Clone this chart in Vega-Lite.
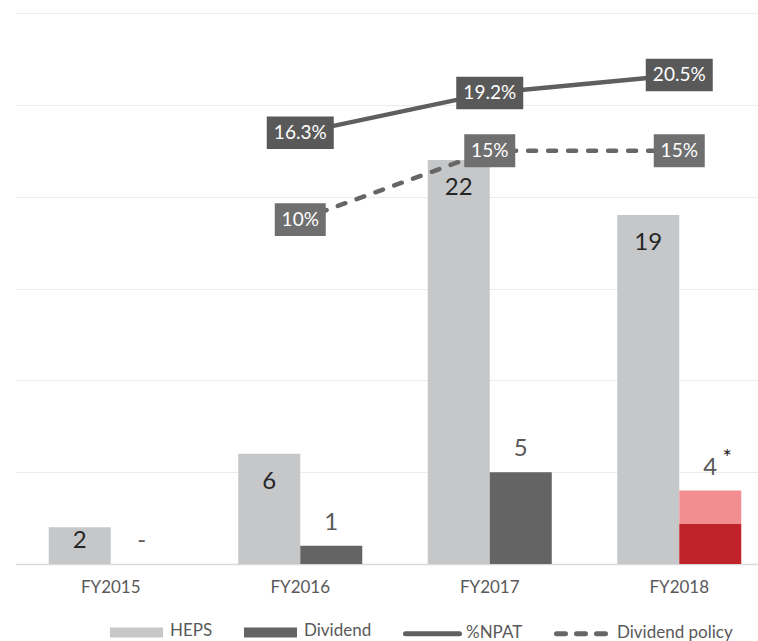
{
  "$schema": "https://vega.github.io/schema/vega-lite/v6.json",
  "width": 742,
  "height": 551,
  "autosize": {"type": "none"},
  "padding": {"left": 16, "top": 13, "right": 0, "bottom": 77},
  "background": "white",
  "config": {"view": {"stroke": null}, "font": "Lato"},
  "datasets": {
    "bars": [
      {"year": "FY2015", "series": "HEPS", "part": "HEPS", "value": 2},
      {"year": "FY2015", "series": "Dividend", "part": "Dividend", "value": 0},
      {"year": "FY2016", "series": "HEPS", "part": "HEPS", "value": 6},
      {"year": "FY2016", "series": "Dividend", "part": "Dividend", "value": 1},
      {"year": "FY2017", "series": "HEPS", "part": "HEPS", "value": 22},
      {"year": "FY2017", "series": "Dividend", "part": "Dividend", "value": 5},
      {"year": "FY2018", "series": "HEPS", "part": "HEPS", "value": 19},
      {"year": "FY2018", "series": "Dividend", "part": "Dividend (interim)", "value": 2.2},
      {"year": "FY2018", "series": "Dividend", "part": "Dividend (final)", "value": 1.8}
    ],
    "barLabels": [
      {"year": "FY2015", "series": "HEPS", "total": 2, "label": "2", "note": ""},
      {"year": "FY2015", "series": "Dividend", "total": 0, "label": "-", "note": ""},
      {"year": "FY2016", "series": "HEPS", "total": 6, "label": "6", "note": ""},
      {"year": "FY2016", "series": "Dividend", "total": 1, "label": "1", "note": ""},
      {"year": "FY2017", "series": "HEPS", "total": 22, "label": "22", "note": ""},
      {"year": "FY2017", "series": "Dividend", "total": 5, "label": "5", "note": ""},
      {"year": "FY2018", "series": "HEPS", "total": 19, "label": "19", "note": ""},
      {"year": "FY2018", "series": "Dividend", "total": 4, "label": "4", "note": "*"}
    ],
    "lines": [
      {"year": "FY2016", "series": "%NPAT", "pct": 16.3, "label": "16.3%"},
      {"year": "FY2017", "series": "%NPAT", "pct": 19.2, "label": "19.2%"},
      {"year": "FY2018", "series": "%NPAT", "pct": 20.5, "label": "20.5%"},
      {"year": "FY2016", "series": "Dividend policy", "pct": 10, "label": "10%"},
      {"year": "FY2017", "series": "Dividend policy", "pct": 15, "label": "15%"},
      {"year": "FY2018", "series": "Dividend policy", "pct": 15, "label": "15%"}
    ]
  },
  "encoding": {
    "x": {
      "field": "year",
      "type": "nominal",
      "scale": {"range": [0, 758], "paddingInner": 0, "paddingOuter": 0},
      "axis": {
        "title": null,
        "ticks": false,
        "labelAngle": 0,
        "labelFontSize": 17,
        "labelColor": "#595959",
        "labelPadding": 15,
        "domainColor": "#d9d9d9",
        "domainWidth": 1.5
      }
    }
  },
  "layer": [
    {
      "encoding": {
        "xOffset": {"field": "series", "type": "nominal", "sort": ["HEPS", "Dividend"], "scale": {"paddingInner": 0, "paddingOuter": 0.528}}
      },
      "layer": [
        {
          "data": {"name": "bars"},
          "mark": {"type": "bar"},
          "encoding": {
            "y": {
              "field": "value",
              "type": "quantitative",
              "stack": "zero",
              "scale": {"domain": [0, 30], "nice": false},
              "axis": {
                "values": [0, 5, 10, 15, 20, 25, 30],
                "labels": false,
                "ticks": false,
                "domain": false,
                "title": null,
                "gridColor": "#ececec",
                "gridWidth": 1
              }
            },
            "order": {"field": "part", "sort": "descending"},
            "color": {
              "field": "part",
              "type": "nominal",
              "scale": {
                "domain": ["HEPS", "Dividend", "%NPAT", "Dividend policy", "Dividend (interim)", "Dividend (final)"],
                "range": ["#c6c7c9", "#646464", "#5f5f5f", "#666666", "#c1232a", "#f28e8f"]
              },
              "legend": {
                "values": ["HEPS", "Dividend", "%NPAT", "Dividend policy"],
                "orient": "none",
                "legendX": 91,
                "legendY": 589.5,
                "direction": "horizontal",
                "columns": 4,
                "title": null,
                "labelFontSize": 17,
                "labelColor": "#595959",
                "symbolSize": 2916,
                "symbolStrokeWidth": 5,
                "columnPadding": 23,
                "labelOffset": 4,
                "encode": {
                  "labels": {"update": {"baseline": {"value": "middle"}, "dy": {"value": -1}}},
                  "symbols": {
                    "update": {
                      "size": {"value": 2916},
                      "strokeWidth": {"value": 5},
                      "shape": {"signal": "(datum.value === 'HEPS' || datum.value === 'Dividend') ? 'M-0.889,-0.093H0.889V0.093H-0.889Z' : 'M-1,0H1'"},
                      "fill": {"signal": "datum.value === 'HEPS' ? '#c6c7c9' : datum.value === 'Dividend' ? '#646464' : 'transparent'"},
                      "stroke": {"signal": "datum.value === 'HEPS' ? '#c6c7c9' : datum.value === 'Dividend' ? '#646464' : datum.value === '%NPAT' ? '#5f5f5f' : '#666666'"},
                      "strokeDash": {"signal": "datum.value === 'Dividend policy' ? [9, 11] : []"},
                      "strokeCap": {"signal": "(datum.value === 'HEPS' || datum.value === 'Dividend') ? 'butt' : 'round'"},
                      "opacity": {"value": 1}
                    }
                  }
                }
              }
            }
          }
        },
        {
          "data": {"name": "barLabels"},
          "transform": [{"filter": "datum.series === 'HEPS' && datum.total >= 5"}],
          "mark": {"type": "text", "fontSize": 24, "color": "#262626", "baseline": "alphabetic", "dy": 35},
          "encoding": {
            "y": {"field": "total", "type": "quantitative", "scale": {"domain": [0, 30], "nice": false}},
            "text": {"field": "label"}
          }
        },
        {
          "data": {"name": "barLabels"},
          "transform": [{"filter": "datum.series === 'HEPS' && datum.total < 5"}],
          "mark": {"type": "text", "fontSize": 24, "color": "#262626", "baseline": "alphabetic", "dy": 21},
          "encoding": {
            "y": {"field": "total", "type": "quantitative", "scale": {"domain": [0, 30], "nice": false}},
            "text": {"field": "label"}
          }
        },
        {
          "data": {"name": "barLabels"},
          "transform": [{"filter": "datum.series === 'Dividend'"}],
          "mark": {"type": "text", "fontSize": 24, "color": "#595959", "baseline": "alphabetic", "dy": -16},
          "encoding": {
            "y": {"field": "total", "type": "quantitative", "scale": {"domain": [0, 30], "nice": false}},
            "text": {"field": "label"}
          }
        },
        {
          "data": {"name": "barLabels"},
          "transform": [{"filter": "datum.note !== ''"}],
          "mark": {"type": "text", "fontSize": 22, "color": "#1a1a1a", "baseline": "alphabetic", "dx": 17, "dy": -26},
          "encoding": {
            "y": {"field": "total", "type": "quantitative", "scale": {"domain": [0, 30], "nice": false}},
            "text": {"field": "note"}
          }
        }
      ]
    },
    {
      "data": {"name": "lines"},
      "encoding": {
        "y": {"field": "pct", "type": "quantitative", "scale": {"domain": [-15, 25], "nice": false, "zero": false}, "axis": null}
      },
      "layer": [
        {
          "transform": [{"filter": "datum.series === '%NPAT'"}],
          "mark": {"type": "line", "color": "#5f5f5f", "strokeWidth": 4.5, "strokeCap": "round"}
        },
        {
          "transform": [{"filter": "datum.series === 'Dividend policy'"}],
          "mark": {"type": "line", "color": "#666666", "strokeWidth": 4.5, "strokeCap": "round", "strokeDash": [8, 12]}
        },
        {
          "transform": [{"filter": "datum.series === '%NPAT'"}],
          "mark": {"type": "point", "shape": "M-1,-0.485H1V0.485H-1Z", "size": 4489, "filled": true, "color": "#595959", "opacity": 1}
        },
        {
          "transform": [{"filter": "datum.series === 'Dividend policy'"}],
          "mark": {"type": "point", "shape": "M-1,-0.647H1V0.647H-1Z", "size": 2601, "filled": true, "color": "#6f6f6f", "opacity": 1}
        },
        {
          "mark": {"type": "text", "fontSize": 19, "color": "white", "baseline": "middle"},
          "encoding": {"text": {"field": "label"}}
        }
      ]
    }
  ],
  "resolve": {"scale": {"y": "independent"}}
}
